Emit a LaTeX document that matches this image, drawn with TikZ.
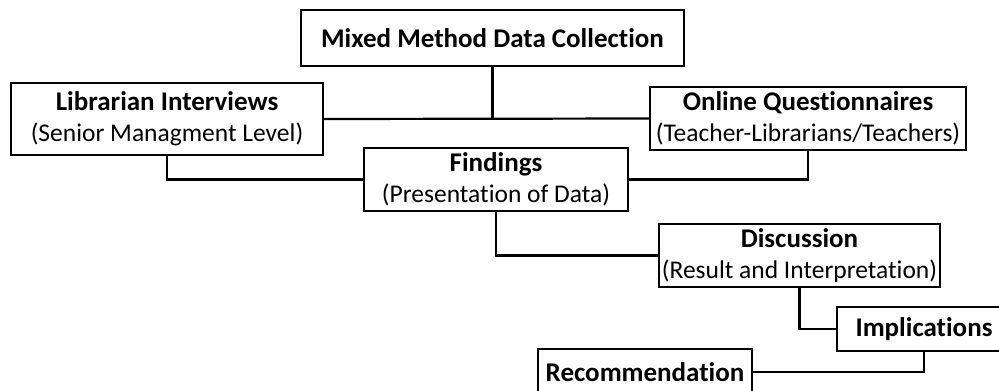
\documentclass[tikz,border=0pt]{standalone}
\usepackage{fontspec}
\setmainfont[Ligatures=NoCommon]{Carlito}
\usepackage{tikz}
\newcommand{\stagetitle}[1]{{\fontsize{27}{31}\selectfont\bfseries #1}}
\tikzset{
    stagebox/.style={
        rectangle,
        draw=black, % black frame
        fill=white,
        line width=2.2pt,
        align=center,
        inner sep=2pt,
        font=\fontsize{25.5}{31}\selectfont
    },
    link/.style={
        draw=black,
        line width=2.2pt
    }
}

\begin{document}
\begin{tikzpicture}[
                x=1pt,
                y=-1pt
            ]
            \useasboundingbox (0,0) rectangle (999,391);
            % boxes
            \node[stagebox, minimum width=383pt, minimum height=56pt] (collect) at (492.5,38)
                {\stagetitle{Mixed Method Data Collection}};
            \node[stagebox, minimum width=312pt, minimum height=72pt] (interview) at (167,119)
                {\stagetitle{Librarian Interviews}\\(Senior Managment Level)};
            \node[stagebox, minimum width=316pt, minimum height=63pt] (survey) at (808,118.5)
                {\stagetitle{Online Questionnaires}\\(Teacher-Librarians/Teachers)};
            \node[stagebox, minimum width=264pt, minimum height=63pt] (findings) at (496,179.5)
                {\stagetitle{Findings}\\(Presentation of Data)};
            \node[stagebox, minimum width=281pt, minimum height=63pt] (discuss) at (799.5,255.5)
                {\stagetitle{Discussion}\\(Result and Interpretation)};
            \node[stagebox, minimum width=174pt, minimum height=44pt] (implic) at (924,329)
                {\stagetitle{Implications}};
            \node[stagebox, minimum width=214pt, minimum height=46pt] (recomm) at (645,372)
                {\stagetitle{Recommendation}};
            % connectors
            \draw[link] (collect.south) -- (collect.south |- interview.east);
            \draw[link] (interview.east) -- (survey.west);
            \draw[link] (interview.south) |- (findings.west);
            \draw[link] (survey.south) |- (findings.east);
            \draw[link] (findings.south) |- (discuss.west);
            \draw[link] (discuss.south) |- (implic.west);
            \draw[link] (implic.south) |- (recomm.east);
            \end{tikzpicture}
\end{document}
